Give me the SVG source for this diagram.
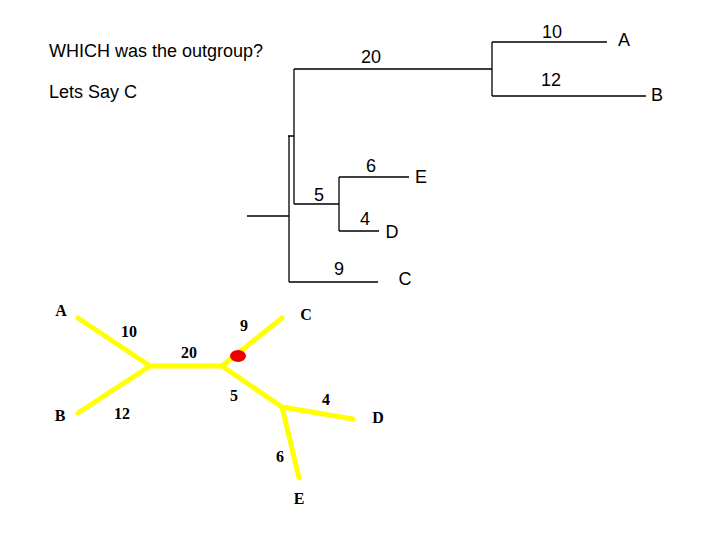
<svg xmlns="http://www.w3.org/2000/svg" width="720" height="540" viewBox="0 0 720 540">
<style>
.t{font-family:"Liberation Sans",Arial,sans-serif;font-size:18px;fill:#000}
.s{font-family:"Liberation Serif","Times New Roman",serif;font-size:16px;font-weight:bold;fill:#000}
.m{text-anchor:middle}
.br{stroke:#000;stroke-width:1.3;fill:none}
.y{stroke:#ffff00;stroke-width:5;fill:none;stroke-linecap:round}
</style>
<rect width="720" height="540" fill="#fff"/>
<text class="t" x="49" y="57">WHICH was the outgroup?</text>
<text class="t" x="49" y="98">Lets Say C</text>
<g id="connectors">
<path class="br" d="M294,69H492M492,42V96M492,42H607M492,96H646M294,69V204M288,136H294M289,136V282M294,204H339M339,177V231M339,177H409M339,231H379M247,216H289M289,282H378"/>
<path class="y" d="M78,318L150,366M78,413L150,366M150,366H222M222,366L282,318M222,366L282,407M282,407L353,419M282,407L299,478"/>
</g>
<g id="top-labels">
<text class="t m" x="552" y="38">10</text>
<text class="t m" x="371" y="63">20</text>
<text class="t m" x="551" y="86">12</text>
<text class="t m" x="371" y="172">6</text>
<text class="t m" x="319" y="201">5</text>
<text class="t m" x="365" y="225">4</text>
<text class="t m" x="339" y="275">9</text>
</g>
<g id="A1"><text class="t m" x="624" y="46">A</text></g>
<g id="B1"><text class="t m" x="657" y="101">B</text></g>
<g id="E1"><text class="t m" x="421" y="183">E</text></g>
<g id="D1"><text class="t m" x="392" y="238">D</text></g>
<g id="C1"><text class="t m" x="405" y="285">C</text></g>
<g id="bottom-labels">
<text class="s m" x="129" y="337">10</text>
<text class="s m" x="244" y="331">9</text>
<text class="s m" x="189" y="358">20</text>
<text class="s m" x="234" y="401">5</text>
<text class="s m" x="326" y="405">4</text>
<text class="s m" x="122" y="419">12</text>
<text class="s m" x="280" y="462">6</text>
</g>
<g id="A2"><text class="s m" x="61" y="316">A</text></g>
<g id="B2"><text class="s m" x="60" y="421">B</text></g>
<g id="C2"><text class="s m" x="306" y="320">C</text></g>
<g id="D2"><text class="s m" x="378" y="423">D</text></g>
<g id="E2"><text class="s m" x="299" y="504">E</text></g>
<g id="root"><ellipse cx="238" cy="356" rx="8" ry="6" fill="#ee0000"/></g>
</svg>
